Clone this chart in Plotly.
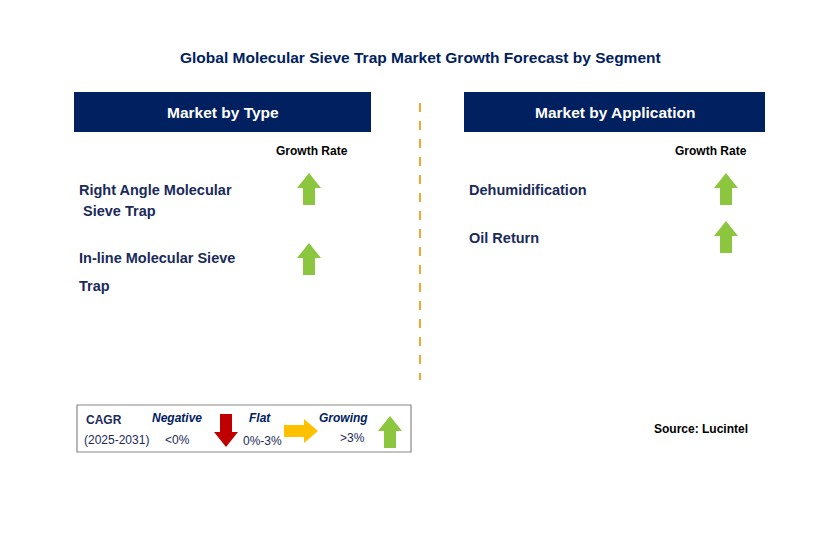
import plotly.graph_objects as go

title = "Global Molecular Sieve Trap Market Growth Forecast by Segment"
panels = ["Market by Type", "Market by Application"]
type_labels = [["Right Angle Molecular", " Sieve Trap"], ["In-line Molecular Sieve", "Trap"]]
type_trend = ["up", "up"]
app_labels = ["Dehumidification", "Oil Return"]
app_trend = ["up", "up"]
source = "Source: Lucintel"

NAVY = "#002060"
TXT = "#1a2a5a"
GREEN = "#8cc63f"
RED = "#c00000"
YEL = "#ffc000"
F = "Liberation Sans, Arial"

fig = go.Figure()
shapes = []
ann = []

def up(cx, top, bot, col=GREEN):
    hw, sw, hh = 12, 6, 15
    return dict(type="path", xref="x", yref="y", line=dict(width=0), fillcolor=col,
                path=f"M{cx},{top} L{cx+hw},{top+hh} L{cx+sw},{top+hh} L{cx+sw},{bot} L{cx-sw},{bot} L{cx-sw},{top+hh} L{cx-hw},{top+hh} Z")

def down(cx, top, bot, col=RED):
    hw, sw, hh = 12, 6, 15
    return dict(type="path", xref="x", yref="y", line=dict(width=0), fillcolor=col,
                path=f"M{cx},{bot} L{cx+hw},{bot-hh} L{cx+sw},{bot-hh} L{cx+sw},{top} L{cx-sw},{top} L{cx-sw},{bot-hh} L{cx-hw},{bot-hh} Z")

def right(left, rgt, cy, col=YEL):
    hw, sw, hl = 12, 6, 14
    return dict(type="path", xref="x", yref="y", line=dict(width=0), fillcolor=col,
                path=f"M{rgt},{cy} L{rgt-hl},{cy-hw} L{rgt-hl},{cy-sw} L{left},{cy-sw} L{left},{cy+sw} L{rgt-hl},{cy+sw} L{rgt-hl},{cy+hw} Z")

ann.append(dict(x=420, y=57, text=f"<b>{title}</b>", showarrow=False, font=dict(size=15.5, color=NAVY, family=F)))

for (x0, x1), name in zip([(74, 371), (464, 765)], panels):
    shapes.append(dict(type="rect", x0=x0, x1=x1, y0=92, y1=132, fillcolor=NAVY, line=dict(width=0)))
    ann.append(dict(x=(x0+x1)/2, y=112, text=f"<b>{name}</b>", showarrow=False, font=dict(size=15.5, color="white", family=F)))

ann.append(dict(x=312, y=151, text="<b>Growth Rate</b>", showarrow=False, font=dict(size=12, color="black", family=F)))
ann.append(dict(x=711, y=151, text="<b>Growth Rate</b>", showarrow=False, font=dict(size=12, color="black", family=F)))

type_y = [(190, 211), (258, 286)]
arrow_y = [190, 260]
for lab, tr, (y1, y2), ay in zip(type_labels, type_trend, type_y, arrow_y):
    for t, y in zip(lab, (y1, y2)):
        ann.append(dict(x=77, y=y, text=f"<b>{t}</b>", showarrow=False, xanchor="left",
                        font=dict(size=14.5, color=TXT, family=F)))
    shapes.append(up(309, ay-17, ay+15) if tr == "up" else down(309, ay-17, ay+15))

app_y = [190, 238]
for lab, tr, y in zip(app_labels, app_trend, app_y):
    ann.append(dict(x=467, y=y, text=f"<b>{lab}</b>", showarrow=False, xanchor="left",
                    font=dict(size=14.5, color=TXT, family=F)))
    shapes.append(up(726, y-17, y+15) if tr == "up" else down(726, y-17, y+15))

shapes.append(dict(type="line", x0=420, x1=420, y0=103, y1=380, line=dict(color="#f0a830", width=2, dash="dash")))

shapes.append(dict(type="rect", x0=77, x1=411, y0=405, y1=452, line=dict(color="#888", width=1.2), fillcolor="white"))
ann += [
    dict(x=84, y=420, text="<b>CAGR</b>", xanchor="left", showarrow=False, font=dict(size=12, color=TXT, family=F)),
    dict(x=82, y=440, text="(2025-2031)", xanchor="left", showarrow=False, font=dict(size=12, color=TXT, family=F)),
    dict(x=177, y=418, text="<b><i>Negative</i></b>", showarrow=False, font=dict(size=12, color=NAVY, family=F)),
    dict(x=177, y=440, text="<0%", showarrow=False, font=dict(size=12, color=TXT, family=F)),
    dict(x=260, y=418, text="<b><i>Flat</i></b>", showarrow=False, font=dict(size=12, color=NAVY, family=F)),
    dict(x=262, y=441, text="0%-3%", showarrow=False, font=dict(size=12, color=TXT, family=F)),
    dict(x=343, y=418, text="<b><i>Growing</i></b>", showarrow=False, font=dict(size=12, color=NAVY, family=F)),
    dict(x=352, y=438, text=">3%", showarrow=False, font=dict(size=12, color=TXT, family=F)),
]
shapes.append(down(226, 414, 447))
shapes.append(right(284, 318, 431))
shapes.append(up(390, 416, 448))

ann.append(dict(x=750, y=429, text=f"<b>{source}</b>", xanchor="right", showarrow=False, font=dict(size=12, color="black", family=F)))

fig.update_layout(width=829, height=533, margin=dict(l=0, r=0, t=0, b=0),
                  plot_bgcolor="white", paper_bgcolor="white",
                  xaxis=dict(range=[8, 837], visible=False, fixedrange=True),
                  yaxis=dict(range=[541, 8], visible=False, fixedrange=True),
                  shapes=shapes, annotations=ann, showlegend=False)
fig.write_html("out.html")
